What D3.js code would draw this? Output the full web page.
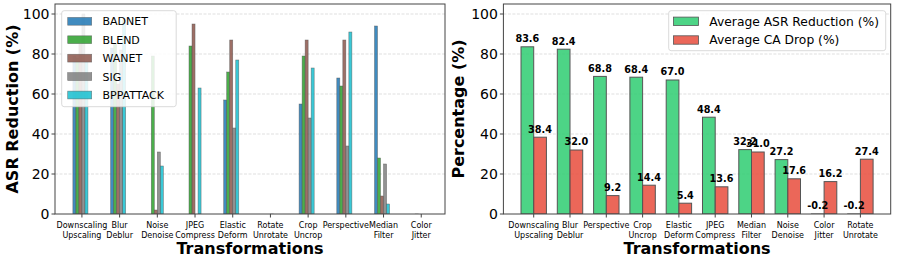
<!DOCTYPE html>
<html><head><meta charset="utf-8">
<script src="https://cdn.jsdelivr.net/npm/d3@7"></script>
<style>body{margin:0;background:#fff} text{font-family:"DejaVu Sans",sans-serif;fill:#000}</style>
</head><body><svg id="c" width="897" height="261"></svg>
<script>
// ---------- data ----------
const attacks = ["BADNET", "BLEND", "WANET", "SIG", "BPPATTACK"];
const attackColors = ["#1f77b4", "#2ca02c", "#8c564b", "#7f7f7f", "#17becf"];
const leftCategories = ["Downscaling\nUpscaling", "Blur\nDeblur", "Noise\nDenoise", "JPEG\nCompress", "Elastic\nDeform", "Rotate\nUnrotate", "Crop\nUncrop", "Perspective", "Median\nFilter", "Color\nJitter"];
const badnet    = [79, 83, 0, 0, 57, 0, 55, 68, 94, 0];
const blend     = [78, 85, 79, 84, 71, 0, 79, 64, 28, -1];
const wanet     = [85, 65, 2, 95, 87, 0, 87, 87, 9, 0];
const sig       = [100, 82, 31, 0, 43, -1, 48, 34, 25, 0];
const bppattack = [76, 97, 24, 63, 77, 0, 73, 91, 5, 0];
const attackSeries = [badnet, blend, wanet, sig, bppattack];

const rightCategories = ["Downscaling\nUpscaling", "Blur\nDeblur", "Perspective", "Crop\nUncrop", "Elastic\nDeform", "JPEG\nCompress", "Median\nFilter", "Noise\nDenoise", "Color\nJitter", "Rotate\nUnrotate"];
const avgAsrReduction = [83.6, 82.4, 68.8, 68.4, 67.0, 48.4, 32.2, 27.2, -0.2, -0.2];
const avgCaDrop       = [38.4, 32.0, 9.2, 14.4, 5.4, 13.6, 31.0, 17.6, 16.2, 27.4];
const rightSeries = ["Average ASR Reduction (%)", "Average CA Drop (%)"];
const rightColors = ["#2ecc71", "#e74c3c"];
const yTicks = [0, 20, 40, 60, 80, 100];

// ---------- layout ----------
const svg = d3.select("#c");
const yTop = 4, yBottom = 214;
const y = d3.scaleLinear().domain([0, 105]).range([yBottom, yTop]);

function multiline(sel, label, x0, y0) {
  const lines = label.split("\n");
  const t = sel.append("text").attr("x", x0).attr("y", y0).attr("text-anchor", "middle").attr("font-size", 8);
  lines.forEach((l, i) => t.append("tspan").attr("x", x0).attr("y", y0 + i * 9.4).text(l));
}

function axesGrid(g, x0, x1) {
  g.selectAll(".grid").data(yTicks.slice(1)).enter().append("line")
    .attr("x1", x0).attr("x2", x1).attr("y1", d => y(d)).attr("y2", d => y(d))
    .attr("stroke", "#b0b0b0").attr("stroke-opacity", 0.5).attr("stroke-width", 0.8)
    .attr("stroke-dasharray", "3,1.5");
}

function axesFrame(g, x0, x1, ylabel, ylabelX, cats, xs) {
  g.append("rect").attr("x", x0).attr("y", yTop).attr("width", x1 - x0).attr("height", yBottom - yTop)
    .attr("fill", "none").attr("stroke", "#444").attr("stroke-width", 1);
  yTicks.forEach(t => {
    g.append("line").attr("x1", x0 - 3.5).attr("x2", x0).attr("y1", y(t)).attr("y2", y(t)).attr("stroke", "#444");
    g.append("text").attr("x", x0 - 5.5).attr("y", y(t)).attr("dy", "0.36em").attr("text-anchor", "end")
      .attr("font-size", 14).text(t);
  });
  cats.forEach((c, i) => {
    const xx = xs(i);
    g.append("line").attr("x1", xx).attr("x2", xx).attr("y1", yBottom).attr("y2", yBottom + 3.5).attr("stroke", "#444");
    multiline(g, c, xx, 228.3);
  });
  g.append("text").attr("x", (x0 + x1) / 2).attr("y", 253.5).attr("text-anchor", "middle")
    .attr("font-size", 16).attr("font-weight", "bold").text("Transformations");
  g.append("text").attr("transform", `translate(${ylabelX},${(yTop + yBottom) / 2}) rotate(-90)`)
    .attr("text-anchor", "middle").attr("dy", "0.36em").attr("font-size", 16).attr("font-weight", "bold").text(ylabel);
}

// ---------- left chart ----------
const L0 = 55, L1 = 445;
const xL = d3.scaleLinear().domain([-0.714, 9.63]).range([L0, L1]);
const gL = svg.append("g");
axesGrid(gL, L0, L1);
const wL = 0.08;
svg.append("clipPath").attr("id", "clipL").append("rect").attr("x", L0).attr("y", yTop).attr("width", L1 - L0).attr("height", yBottom - yTop);
const barsL = gL.append("g").attr("clip-path", "url(#clipL)");
attackSeries.forEach((series, s) => {
  barsL.selectAll(".b" + s).data(series).enter().append("rect")
    .attr("x", (d, i) => xL(i + (s - 3) * wL))
    .attr("width", xL(wL) - xL(0))
    .attr("y", d => y(Math.max(d, 0)))
    .attr("height", d => Math.abs(y(d) - y(0)))
    .attr("fill", attackColors[s]).attr("fill-opacity", 0.85)
    .attr("stroke", "#555").attr("stroke-opacity", 0.7).attr("stroke-width", 0.6);
});
axesFrame(gL, L0, L1, "ASR Reduction (%)", 12, leftCategories, xL);
const legL = gL.append("g");
legL.append("rect").attr("x", 61.7).attr("y", 10.7).attr("width", 114.5).attr("height", 96).attr("rx", 2.5)
  .attr("fill", "#fff").attr("fill-opacity", 0.85).attr("stroke", "#d0d0d0").attr("stroke-width", 0.8);
attacks.forEach((a, i) => {
  const cy = 21.3 + i * 18.43;
  legL.append("rect").attr("x", 67.7).attr("y", cy - 3.9).attr("width", 24).attr("height", 7.8)
    .attr("fill", attackColors[i]).attr("fill-opacity", 0.85).attr("stroke", "#555").attr("stroke-opacity", 0.7).attr("stroke-width", 0.6);
  legL.append("text").attr("x", 102.5).attr("y", cy).attr("dy", "0.36em").attr("font-size", 11).text(a);
});

// ---------- right chart ----------
const R0 = 503.4, R1 = 890.7;
const xR = d3.scaleLinear().domain([-0.835, 9.835]).range([R0, R1]);
const gR = svg.append("g");
axesGrid(gR, R0, R1);
const wR = 0.35;
svg.append("clipPath").attr("id", "clipR").append("rect").attr("x", R0).attr("y", yTop).attr("width", R1 - R0).attr("height", yBottom - yTop);
const barsR = gR.append("g").attr("clip-path", "url(#clipR)");
[avgAsrReduction, avgCaDrop].forEach((series, s) => {
  const off = s === 0 ? -wR / 2 : wR / 2;
  barsR.selectAll(".r" + s).data(series).enter().append("rect")
    .attr("x", (d, i) => xR(i + off - wR / 2))
    .attr("width", xR(wR) - xR(0))
    .attr("y", d => y(Math.max(d, 0)))
    .attr("height", d => Math.abs(y(d) - y(0)))
    .attr("fill", rightColors[s]).attr("fill-opacity", 0.85)
    .attr("stroke", "#555").attr("stroke-width", 1);
});
[avgAsrReduction, avgCaDrop].forEach((series, s) => {
  const off = s === 0 ? -wR / 2 : wR / 2;
  gR.selectAll(".l" + s).data(series).enter().append("text")
    .attr("x", (d, i) => xR(i + off))
    .attr("y", d => y(Math.max(d, 0) + 1) - 2.6)
    .attr("text-anchor", "middle").attr("font-size", 9.7).attr("font-weight", "bold")
    .text(d => d.toFixed(1));
});
axesFrame(gR, R0, R1, "Percentage (%)", 458.3, rightCategories, xR);
const legR = gR.append("g");
legR.append("rect").attr("x", 668.7).attr("y", 10.7).attr("width", 217).attr("height", 40).attr("rx", 2.5)
  .attr("fill", "#fff").attr("fill-opacity", 0.85).attr("stroke", "#d0d0d0").attr("stroke-width", 0.8);
rightSeries.forEach((a, i) => {
  const cy = 21.3 + i * 18.7;
  legR.append("rect").attr("x", 673.5).attr("y", cy - 4.2).attr("width", 25).attr("height", 8.4)
    .attr("fill", rightColors[i]).attr("fill-opacity", 0.85).attr("stroke", "#555").attr("stroke-width", 0.8);
  legR.append("text").attr("x", 709.3).attr("y", cy).attr("dy", "0.36em").attr("font-size", 12.3).text(a);
});
</script></body></html>
